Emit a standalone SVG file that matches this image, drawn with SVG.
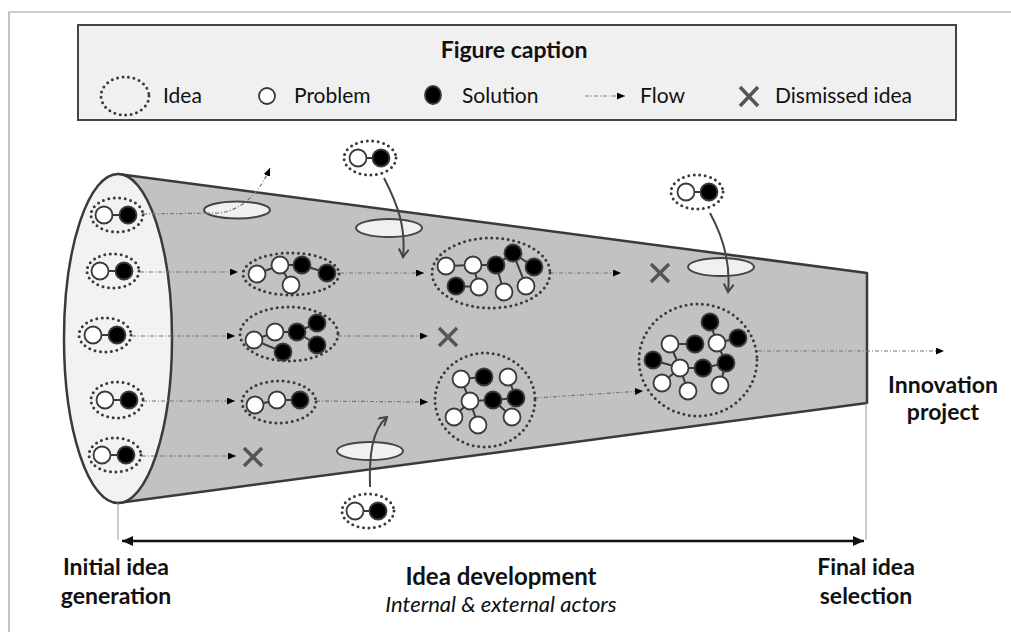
<svg xmlns="http://www.w3.org/2000/svg" width="1011" height="632" viewBox="0 0 1011 632">
<style>
.dot{fill:none;stroke:#3a3a3a;stroke-width:3;stroke-dasharray:0 5.5;stroke-linecap:round}
.w{fill:#fff;stroke:#3a3a3a;stroke-width:1.8}
.b{fill:#000;stroke:#3a3a3a;stroke-width:1.8}
.e{stroke:#3a3a3a;stroke-width:2;fill:none}
.flow{fill:none;stroke:#777;stroke-width:1.2;stroke-dasharray:4 2 1 2}
.ext{fill:none;stroke:#444;stroke-width:2}
.hole{fill:#f0f0f0;stroke:#444;stroke-width:2}
.x{stroke:#555;stroke-width:3.5;stroke-linecap:butt}
.t{font-family:Lato,"Liberation Sans",sans-serif;fill:#111}
.bold{font-weight:bold}
.guide{stroke:#999;stroke-width:1}
</style>
<defs>
<marker id="ah" markerUnits="userSpaceOnUse" markerWidth="10" markerHeight="8" refX="8" refY="3.5" orient="auto"><path d="M0,0 L8,3.5 L0,7 Z" fill="#000"/></marker>
<marker id="vh" markerUnits="userSpaceOnUse" markerWidth="12" markerHeight="12" refX="9" refY="5" orient="auto"><path d="M1,0 L9,5 L1,10" fill="none" stroke="#444" stroke-width="2"/></marker>
<marker id="da" markerUnits="userSpaceOnUse" markerWidth="14" markerHeight="12" refX="11" refY="5" orient="auto-start-reverse"><path d="M0,0 L11,5 L0,10 Z" fill="#111"/></marker>
</defs>
<rect width="1011" height="632" fill="#fff"/>
<path d="M9,632 V12 H1011" fill="none" stroke="#999" stroke-width="1.2"/>

<g id="legend">
<rect x="78" y="25" width="878" height="95" fill="#f0f0f0" stroke="#444" stroke-width="2"/>
<text class="t bold" x="514" y="58" font-size="23" text-anchor="middle">Figure caption</text>
<ellipse class="dot" cx="125" cy="96" rx="24" ry="19"/>
<text class="t" x="163" y="103" font-size="21">Idea</text>
<circle class="w" cx="267" cy="96" r="8"/>
<text class="t" x="294" y="103" font-size="21">Problem</text>
<ellipse class="b" cx="433" cy="95" rx="8" ry="9"/>
<text class="t" x="462" y="103" font-size="21">Solution</text>
<line class="flow" x1="585" y1="96" x2="625" y2="96" marker-end="url(#ah)"/>
<text class="t" x="640" y="103" font-size="21">Flow</text>
<path class="x" d="M740,87 L758,106 M758,87 L740,106"/>
<text class="t" x="775" y="103" font-size="21">Dismissed idea</text>
</g>

<g id="funnel">
<polygon points="118,174 867,273 867,403 118,503" fill="#c2c2c2" stroke="#3a3a3a" stroke-width="2.5" stroke-linejoin="round"/>
<ellipse cx="118" cy="338.5" rx="54" ry="164.5" fill="#f2f2f2" stroke="#3a3a3a" stroke-width="2.5"/>
<ellipse class="hole" cx="237" cy="210" rx="33" ry="8.5"/>
<ellipse class="hole" cx="389" cy="228" rx="33" ry="9"/>
<ellipse class="hole" cx="721" cy="267" rx="33" ry="9"/>
<ellipse class="hole" cx="370" cy="451" rx="33" ry="9"/>
</g>

<g id="connectors">
<path class="flow" d="M143,214 L220,213 C240,210 258,196 270,168" marker-end="url(#ah)"/>
<line class="flow" x1="140" y1="272" x2="238" y2="272" marker-end="url(#ah)"/>
<line class="flow" x1="340" y1="273" x2="424" y2="273" marker-end="url(#ah)"/>
<line class="flow" x1="550" y1="273" x2="621" y2="273" marker-end="url(#ah)"/>
<line class="flow" x1="132" y1="336" x2="235" y2="336" marker-end="url(#ah)"/>
<line class="flow" x1="338" y1="336" x2="428" y2="336" marker-end="url(#ah)"/>
<line class="flow" x1="143" y1="401" x2="235" y2="401" marker-end="url(#ah)"/>
<line class="flow" x1="316" y1="401" x2="428" y2="402" marker-end="url(#ah)"/>
<line class="flow" x1="535" y1="398" x2="643" y2="391" marker-end="url(#ah)"/>
<line class="flow" x1="142" y1="456" x2="236" y2="456" marker-end="url(#ah)"/>
<line class="flow" x1="758" y1="351" x2="944" y2="351" marker-end="url(#ah)"/>
<path class="ext" d="M384,178 C398,205 406,228 403,257" marker-end="url(#vh)"/>
<path class="ext" d="M710,213 C722,235 731,262 728,292" marker-end="url(#vh)"/>
<path class="ext" d="M370,487 C369,455 372,430 387,417" marker-end="url(#vh)"/>
<line class="guide" x1="118" y1="503" x2="118" y2="540"/>
<line class="guide" x1="866" y1="403" x2="866" y2="540"/>
<line x1="122" y1="541" x2="864" y2="541" stroke="#111" stroke-width="2.5" marker-start="url(#da)" marker-end="url(#da)"/>
</g>

<g id="dismissed">
<path class="x" d="M244,448 L262,466 M262,448 L244,466"/>
<path class="x" d="M439,328 L457,346 M457,328 L439,346"/>
<path class="x" d="M651,264 L669,282 M669,264 L651,282"/>
</g>

<g id="idea1"><ellipse class="dot" cx="117" cy="215" rx="26" ry="17"/><line class="e" x1="104" y1="215" x2="128" y2="215"/><circle class="w" cx="104" cy="215" r="8.5"/><circle class="b" cx="128" cy="215" r="8.5"/></g>
<g id="idea2"><ellipse class="dot" cx="113" cy="271" rx="26" ry="17"/><line class="e" x1="100" y1="271" x2="124" y2="271"/><circle class="w" cx="100" cy="271" r="8.5"/><circle class="b" cx="124" cy="271" r="8.5"/></g>
<g id="idea3"><ellipse class="dot" cx="105" cy="335" rx="26" ry="17"/><line class="e" x1="93" y1="335" x2="117" y2="335"/><circle class="w" cx="93" cy="335" r="8.5"/><circle class="b" cx="117" cy="335" r="8.5"/></g>
<g id="idea4"><ellipse class="dot" cx="117" cy="400" rx="26" ry="18"/><line class="e" x1="105" y1="400" x2="129" y2="400"/><circle class="w" cx="105" cy="400" r="8.5"/><circle class="b" cx="129" cy="400" r="8.5"/></g>
<g id="idea5"><ellipse class="dot" cx="115" cy="455" rx="26" ry="17"/><line class="e" x1="102" y1="455" x2="126" y2="455"/><circle class="w" cx="102" cy="455" r="8.5"/><circle class="b" cx="126" cy="455" r="8.5"/></g>

<g id="ext1"><ellipse class="dot" cx="370" cy="158" rx="26" ry="17"/><line class="e" x1="358" y1="158" x2="381" y2="158"/><circle class="w" cx="358" cy="158" r="8.5"/><circle class="b" cx="381" cy="158" r="8.5"/></g>
<g id="ext2"><ellipse class="dot" cx="697" cy="192" rx="26" ry="17"/><line class="e" x1="686" y1="192" x2="709" y2="192"/><circle class="w" cx="686" cy="192" r="8.5"/><circle class="b" cx="709" cy="192" r="8.5"/></g>
<g id="ext3"><ellipse class="dot" cx="368" cy="511" rx="26" ry="17"/><line class="e" x1="355" y1="511" x2="378" y2="511"/><circle class="w" cx="355" cy="511" r="8.5"/><circle class="b" cx="378" cy="511" r="8.5"/></g>

<g id="clusterA">
<ellipse class="dot" cx="291" cy="274" rx="48" ry="21"/>
<path class="e" d="M257,274 L280,265 L302,265 L327,273 M280,265 L291,285"/>
<circle class="w" cx="257" cy="274" r="8.5"/><circle class="w" cx="280" cy="265" r="8.5"/><circle class="b" cx="302" cy="265" r="8.5"/><circle class="b" cx="327" cy="273" r="8.5"/><circle class="w" cx="291" cy="285" r="8.5"/>
</g>

<g id="clusterB">
<ellipse class="dot" cx="289" cy="334" rx="49" ry="27"/>
<path class="e" d="M254,340 L275,332 L297,332 L317,323 M297,332 L317,345 M254,340 L283,352"/>
<circle class="w" cx="254" cy="340" r="8.5"/><circle class="w" cx="275" cy="332" r="8.5"/><circle class="b" cx="297" cy="332" r="8.5"/><circle class="b" cx="317" cy="323" r="8.5"/><circle class="b" cx="317" cy="345" r="8.5"/><circle class="b" cx="283" cy="352" r="8.5"/>
</g>

<g id="clusterC">
<ellipse class="dot" cx="279" cy="402" rx="37" ry="21"/>
<path class="e" d="M255,405 L277,400 L300,400"/>
<circle class="w" cx="255" cy="405" r="8.5"/><circle class="w" cx="277" cy="400" r="8.5"/><circle class="b" cx="300" cy="400" r="8.5"/>
</g>

<g id="clusterF">
<ellipse class="dot" cx="491" cy="273" rx="59" ry="35"/>
<path class="e" d="M446,266 L473,265 L496,265 L513,253 L534,267 M456,286 L479,287 L473,265 M496,265 L504,292 M513,253 L526,286"/>
<circle class="w" cx="446" cy="266" r="8.5"/><circle class="w" cx="473" cy="265" r="8.5"/><circle class="b" cx="496" cy="265" r="8.5"/><circle class="b" cx="513" cy="253" r="8.5"/><circle class="b" cx="534" cy="267" r="8.5"/><circle class="b" cx="456" cy="286" r="8.5"/><circle class="w" cx="479" cy="287" r="8.5"/><circle class="w" cx="504" cy="292" r="8.5"/><circle class="w" cx="526" cy="286" r="8.5"/>
</g>

<g id="clusterD">
<ellipse class="dot" cx="485" cy="400" rx="50" ry="47"/>
<path class="e" d="M461,379 L484,377 M461,379 L470,401 L493,400 L516,398 L508,377 M470,401 L454,417 M470,401 L478,425 M493,400 L512,417"/>
<circle class="w" cx="461" cy="379" r="8.5"/><circle class="b" cx="484" cy="377" r="8.5"/><circle class="w" cx="508" cy="377" r="8.5"/><circle class="w" cx="470" cy="401" r="8.5"/><circle class="b" cx="493" cy="400" r="8.5"/><circle class="b" cx="516" cy="398" r="8.5"/><circle class="w" cx="454" cy="417" r="8.5"/><circle class="w" cx="478" cy="425" r="8.5"/><circle class="w" cx="512" cy="417" r="8.5"/>
</g>

<g id="clusterE">
<ellipse class="dot" cx="698" cy="360" rx="59" ry="56"/>
<path class="e" d="M710,322 L717,343 L738,338 M670,344 L695,344 M670,344 L680,368 M653,360 L680,368 L703,368 L726,363 L720,385 M680,368 L662,383 M680,368 L688,391 M717,343 L726,363"/>
<circle class="b" cx="710" cy="322" r="8.5"/><circle class="b" cx="738" cy="338" r="8.5"/><circle class="w" cx="670" cy="344" r="8.5"/><circle class="b" cx="695" cy="344" r="8.5"/><circle class="w" cx="717" cy="343" r="8.5"/><circle class="b" cx="653" cy="360" r="8.5"/><circle class="w" cx="680" cy="368" r="8.5"/><circle class="b" cx="703" cy="368" r="8.5"/><circle class="b" cx="726" cy="363" r="8.5"/><circle class="w" cx="662" cy="383" r="8.5"/><circle class="w" cx="688" cy="391" r="8.5"/><circle class="w" cx="720" cy="385" r="8.5"/>
</g>

<g id="labels">
<text class="t bold" font-size="23" text-anchor="middle" x="943" y="393">Innovation</text>
<text class="t bold" font-size="23" text-anchor="middle" x="943" y="420">project</text>
<text class="t bold" font-size="23" text-anchor="middle" x="116" y="575">Initial idea</text>
<text class="t bold" font-size="23" text-anchor="middle" x="116" y="604">generation</text>
<text class="t bold" font-size="24" text-anchor="middle" x="501" y="585">Idea development</text>
<text class="t" font-size="22" font-style="italic" text-anchor="middle" x="501" y="612">Internal &amp; external actors</text>
<text class="t bold" font-size="23" text-anchor="middle" x="866" y="575">Final idea</text>
<text class="t bold" font-size="23" text-anchor="middle" x="866" y="604">selection</text>
</g>
</svg>
